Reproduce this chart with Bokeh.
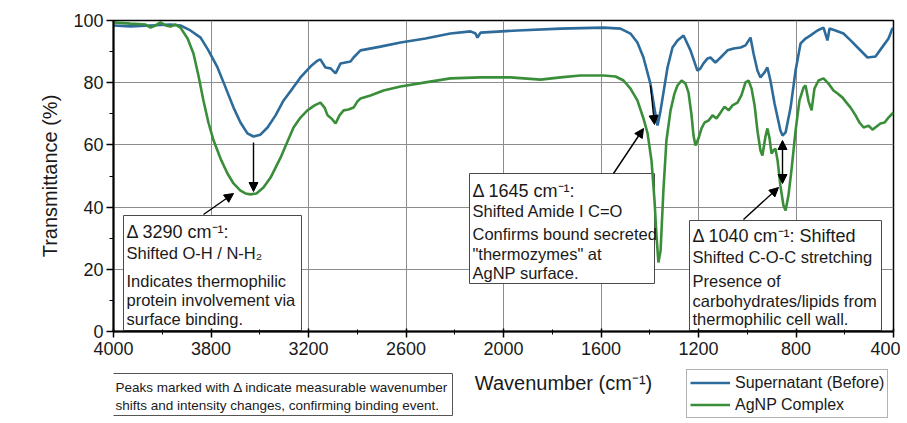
from bokeh.plotting import figure
from bokeh.layouts import column
from bokeh.models import (Range1d, FixedTicker, Label, Arrow, NormalHead, Legend, LegendItem)
from bokeh.embed import file_html
from bokeh.resources import INLINE

# ---------------- data ----------------
wn_super = [4000, 3922, 3829, 3737, 3691, 3645, 3598, 3562, 3520, 3483, 3446, 3414, 3382, 3354,
            3322, 3289, 3252, 3215, 3174, 3137, 3091, 3058, 3045, 3022, 2998, 2975, 2952, 2929,
            2906, 2892, 2860, 2768, 2675, 2560, 2445, 2352, 2329, 2320, 2306, 2135, 1937, 1738,
            1660, 1614, 1582, 1554, 1522, 1498, 1489, 1475, 1443, 1420, 1397, 1369, 1337, 1305,
            1291, 1277, 1258, 1245, 1222, 1198, 1166, 1138, 1106, 1083, 1060, 1046, 1028, 1014,
            995, 982, 968, 949, 935, 922, 912, 898, 875, 852, 829, 806, 783, 751, 723, 705, 695,
            668, 631, 598, 561, 520, 483, 446, 423, 405, 400]
t_super = [98.4, 98.1, 98.4, 98.7, 98.4, 96.8, 94.5, 90.4, 84.9, 78.5, 72.0, 67.2, 63.7, 62.7,
           63.3, 65.6, 69.5, 74.3, 78.1, 81.7, 85.2, 87.1, 87.5, 84.9, 84.6, 83.0, 86.2, 86.5,
           86.8, 88.1, 90.4, 91.6, 92.9, 94.2, 95.8, 96.5, 95.8, 94.5, 96.1, 96.8, 97.4, 97.7,
           97.4, 95.8, 92.9, 88.1, 79.7, 69.5, 66.2, 71.1, 84.9, 91.3, 93.6, 95.2, 90.4, 83.9,
           84.6, 86.2, 87.8, 88.1, 86.5, 88.1, 90.4, 91.0, 91.3, 92.0, 94.5, 89.4, 83.9, 81.7,
           83.3, 84.9, 80.7, 73.3, 68.8, 64.6, 63.0, 64.0, 72.0, 83.9, 92.6, 94.2, 95.2, 96.8,
           97.7, 93.6, 97.4, 96.8, 95.8, 93.6, 91.0, 88.1, 88.4, 92.0, 94.2, 97.4, 97.4]

wn_agnp = [4000, 3922, 3852, 3829, 3806, 3783, 3760, 3737, 3714, 3691, 3658, 3631, 3608, 3585,
           3562, 3538, 3506, 3474, 3446, 3414, 3391, 3368, 3340, 3308, 3275, 3229, 3197, 3169,
           3137, 3105, 3072, 3045, 3026, 3012, 2994, 2975, 2957, 2938, 2915, 2892, 2874, 2860,
           2814, 2754, 2675, 2560, 2445, 2306, 2168, 2029, 1937, 1845, 1738, 1683, 1646, 1614,
           1582, 1554, 1535, 1517, 1503, 1494, 1485, 1475, 1462, 1448, 1429, 1411, 1397, 1378,
           1360, 1346, 1332, 1323, 1314, 1300, 1286, 1272, 1254, 1235, 1217, 1198, 1180, 1161,
           1143, 1120, 1102, 1083, 1069, 1055, 1041, 1028, 1014, 1005, 991, 982, 972, 963, 954,
           945, 935, 922, 908, 898, 885, 871, 852, 834, 815, 806, 792, 778, 765, 746, 723, 700,
           677, 658, 635, 617, 598, 575, 557, 538, 515, 497, 478, 460, 441, 423, 405, 400]
t_agnp = [99.4, 99.0, 98.7, 97.7, 98.4, 99.4, 98.4, 98.1, 98.7, 97.7, 94.2, 89.4, 82.3, 74.3,
          67.2, 61.4, 55.6, 50.8, 47.6, 45.3, 44.4, 44.1, 44.4, 46.3, 49.5, 55.9, 61.1, 65.6,
          68.8, 71.1, 72.7, 73.6, 72.0, 69.5, 68.5, 66.9, 69.5, 71.1, 71.4, 72.0, 74.0, 74.9,
          75.9, 77.5, 78.8, 80.1, 81.4, 81.7, 81.7, 81.0, 81.7, 82.3, 82.3, 82.0, 80.7, 78.1,
          74.3, 68.5, 63.7, 55.0, 42.1, 30.9, 22.2, 26.0, 45.3, 61.4, 71.1, 76.5, 79.1, 80.7,
          79.7, 76.8, 69.5, 63.0, 59.8, 62.1, 65.3, 67.2, 67.8, 69.5, 68.5, 70.4, 72.3, 71.1,
          72.7, 73.6, 75.9, 80.1, 80.7, 78.1, 72.7, 64.6, 58.2, 56.6, 62.7, 65.3, 62.1, 57.2, 58.2,
          58.8, 55.0, 46.9, 40.5, 38.9, 43.7, 51.8, 64.6, 74.3, 78.5, 79.1, 74.0, 71.1, 78.1, 80.7, 81.4, 79.7,
          77.5, 76.5, 75.2, 73.6, 72.0, 69.5, 67.2, 65.6, 66.2, 64.9, 65.9, 66.9, 67.2, 68.8, 70.1, 70.4]

x_tick_pos = [4000, 3550, 3100, 2650, 2200, 1750, 1300, 850, 400]
x_tick_labels = ["4000", "3800", "3200", "2600", "2000", "1600", "1200", "800", "400"]
y_ticks = [0, 20, 40, 60, 80, 100]
y_minor = [10, 30, 50, 70, 90]

series_names = ["Supernatant (Before)", "AgNP Complex"]

BLUE = "#2d6b9b"
GREEN = "#3a8e3a"
FONT = "Liberation Sans"
TXT = "#1a1a1a"

W = 900
LEFT, RIGHT = 113, 7

# ---------------- main figure ----------------
p = figure(width=W, height=365, output_backend="svg", toolbar_location=None,
           x_range=Range1d(4000, 400), y_range=Range1d(0, 100),
           min_border_left=LEFT, min_border_right=RIGHT, min_border_top=20, min_border_bottom=34,
           background_fill_color="white", border_fill_color="white")
p.outline_line_color = "black"
p.outline_line_width = 1.5

# helpers: page pixel position -> data coordinates (annotation placement only)
def X(px):
    return 4000 - (px - 113) * 3600 / 780

def Y(py):
    return (331 - py) * 100 / 311

minor_x = [(a + b) / 2 for a, b in zip(x_tick_pos[:-1], x_tick_pos[1:])]
p.xaxis.ticker = FixedTicker(ticks=x_tick_pos, minor_ticks=minor_x)
p.xaxis.major_label_overrides = {t: l for t, l in zip(x_tick_pos, x_tick_labels)}
p.yaxis.ticker = FixedTicker(ticks=y_ticks, minor_ticks=y_minor)

for ax in (p.xaxis[0], p.yaxis[0]):
    ax.axis_line_width = 2
    ax.axis_line_color = "black"
    ax.major_tick_line_color = "black"
    ax.minor_tick_line_color = "black"
    ax.major_tick_line_width = 1.5
    ax.major_label_text_font = FONT
    ax.major_label_text_font_size = "18px"
    ax.major_label_text_color = TXT

p.xaxis.major_tick_in = 3
p.xaxis.major_tick_out = 6
p.xaxis.minor_tick_in = 2
p.xaxis.minor_tick_out = 3
p.xaxis.major_label_standoff = 4
p.yaxis.major_tick_in = 0
p.yaxis.major_tick_out = 7
p.yaxis.minor_tick_in = 0
p.yaxis.minor_tick_out = 4
p.yaxis.major_label_standoff = 3

p.yaxis.axis_label = "Transmittance (%)"
p.yaxis.axis_label_text_font = FONT
p.yaxis.axis_label_text_font_style = "normal"
p.yaxis.axis_label_text_font_size = "20px"
p.yaxis.axis_label_text_color = TXT
p.yaxis.axis_label_standoff = 9

p.grid.grid_line_color = "#8c8c8c"
p.grid.grid_line_width = 1

# annotation boxes (above grid, under curves)
boxes = [(123, 301, 215, 330), (469, 654, 173, 283), (689, 881, 220, 330)]
p.quad(left=[X(b[0]) for b in boxes], right=[X(b[1]) for b in boxes],
       top=[Y(b[2]) for b in boxes], bottom=[Y(b[3]) for b in boxes],
       fill_color="white", line_color="#4a4a4a", line_width=1)

# curves
r1 = p.line(wn_super, t_super, line_color=BLUE, line_width=2.6)
r2 = p.line(wn_agnp, t_agnp, line_color=GREEN, line_width=2.6)

def add_text(px, py, text, size):
    p.add_layout(Label(x=X(px), y=Y(py), text=text, text_font=FONT, text_font_size=size,
                       text_color=TXT, text_align="left", text_baseline="middle"))

HEAD = "18px"
BODY = "16.5px"
box_texts = [
    (126, [(231, "Δ 3290 cm⁻¹:", HEAD), (252, "Shifted O-H / N-H₂", BODY),
           (280, "Indicates thermophilic", BODY), (299, "protein involvement via", BODY),
           (318, "surface binding.", BODY)]),
    (472, [(190, "Δ 1645 cm⁻¹:", HEAD), (210, "Shifted Amide I C=O", BODY),
           (233, "Confirms bound secreted", BODY), (253, "\"thermozymes\" at", BODY),
           (272, "AgNP surface.", BODY)]),
    (692, [(235, "Δ 1040 cm⁻¹: Shifted", HEAD), (256, "Shifted C-O-C stretching", BODY),
           (280, "Presence of", BODY), (300, "carbohydrates/lipids from", BODY),
           (318, "thermophilic cell wall.", BODY)]),
]
for px, lines in box_texts:
    for py, t, s in lines:
        add_text(px, py, t, s)

def arrow(x0, y0, x1, y1, both=False):
    kw = dict(x_start=X(x0), y_start=Y(y0), x_end=X(x1), y_end=Y(y1),
              line_color="black", line_width=1.4,
              end=NormalHead(size=9, fill_color="black", line_color="black"))
    if both:
        kw["start"] = NormalHead(size=9, fill_color="black", line_color="black")
    p.add_layout(Arrow(**kw))

arrow(253, 142, 253, 191)
arrow(203, 214, 233, 193)
arrow(650, 85, 654, 124)
arrow(613, 173, 643, 128)
arrow(782, 140, 782, 183, both=True)
arrow(743, 219, 778, 187)

# ---------------- bottom strip: x title, note, legend ----------------
# same borders as the main figure; x range in page pixels of the frame
f2 = figure(width=W, height=56, output_backend="svg", toolbar_location=None,
            x_range=Range1d(LEFT, W - RIGHT), y_range=Range1d(421, 365),
            min_border_left=LEFT, min_border_right=RIGHT,
            min_border_top=0, min_border_bottom=0,
            background_fill_color="white", border_fill_color="white")
f2.axis.visible = False
f2.grid.visible = False
f2.outline_line_color = None

f2.text(x=[563], y=[382], text=["Wavenumber (cm⁻¹)"], text_font={"value": FONT},
        text_font_size="20px", text_color=TXT, text_align="center", text_baseline="middle")

f2.quad(left=[LEFT - 1], right=[452], top=[373], bottom=[415],
        fill_color="white", line_color="#555555", line_width=1)
f2.text(x=[115, 115], y=[387, 405],
        text=["Peaks marked with Δ indicate measurable wavenumber",
              "shifts and intensity changes, confirming binding event."],
        text_font={"value": FONT}, text_font_size="13.5px", text_color=TXT,
        text_align="left", text_baseline="middle")

# proxy renderers for the legend (placed outside the visible range)
d1 = f2.line([0, 1], [0, 0], line_color=BLUE, line_width=2.6)
d2 = f2.line([0, 1], [0, 0], line_color=GREEN, line_width=2.6)
legend = Legend(items=[LegendItem(label=series_names[0], renderers=[d1]),
                       LegendItem(label=series_names[1], renderers=[d2])],
                location=(686 - LEFT, 3), orientation="vertical",
                label_text_font=FONT, label_text_font_size="16px", label_text_color=TXT,
                glyph_width=40, glyph_height=19, label_height=19, label_standoff=5,
                spacing=3, padding=3, margin=0,
                border_line_color="#666666", border_line_width=1,
                background_fill_color="white", background_fill_alpha=1)
f2.add_layout(legend)

layout = column(p, f2, spacing=0)
open("out.html", "w").write(file_html(layout, INLINE))
